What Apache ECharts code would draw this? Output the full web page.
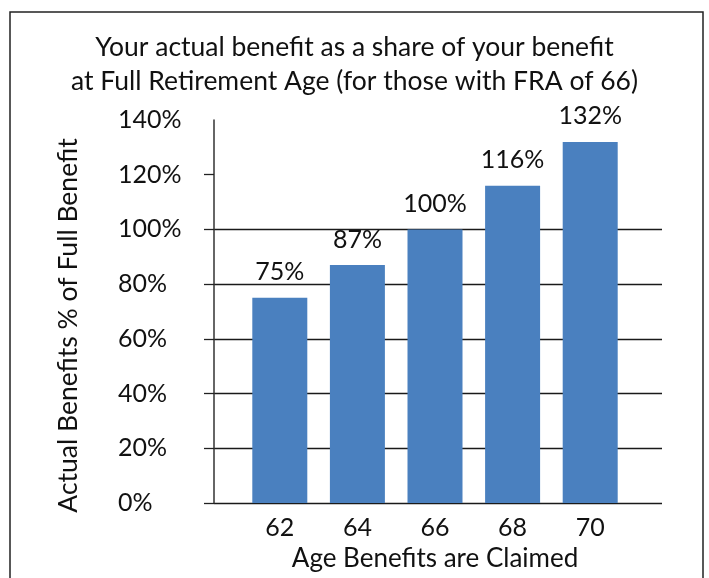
<!DOCTYPE html>
<html>
<head>
<meta charset="utf-8">
<script src="https://cdn.jsdelivr.net/npm/echarts@6/dist/echarts.min.js"></script>
<style>html,body{margin:0;padding:0;background:#fff}#c{width:709px;height:578px}</style>
</head>
<body>
<div id="c"></div>
<script>
const titleLines = ['Your actual benefit as a share of your benefit', 'at Full Retirement Age (for those with FRA of 66)'];
const categories = ['62', '64', '66', '68', '70'];
const values = [75, 87, 100, 116, 132];
const yTicks = [0, 20, 40, 60, 80, 100, 120];
const yMin = 0, yMax = 140, yStep = 20;
const xName = 'Age Benefits are Claimed';
const yName = 'Actual Benefits % of Full Benefit';

const FONT = 'Lato';
const chart = echarts.init(document.getElementById('c'));
chart.setOption({
  animation: false,
  backgroundColor: '#fff',
  textStyle: { fontFamily: FONT },
  title: {
    text: titleLines.join('\n'),
    left: 'center',
    top: 25,
    textStyle: { fontFamily: FONT, fontSize: 26.5, fontWeight: 'normal', color: '#111', lineHeight: 34 }
  },
  graphic: [{
    type: 'rect', shape: { x: 10, y: 12, width: 693, height: 620 },
    style: { fill: 'none', stroke: '#222', lineWidth: 1.5 }, silent: true, z: -1
  }],
  grid: [
    { left: 214, right: 47, top: 120, bottom: 75 },
    { left: 241, right: 80, top: 120, bottom: 75 }
  ],
  xAxis: [
    { type: 'value', gridIndex: 0, show: false, min: 0, max: 1 },
    {
      type: 'category', gridIndex: 1, data: categories,
      axisLine: { show: false }, axisTick: { show: false },
      axisLabel: { fontFamily: FONT, fontSize: 25, color: '#111', margin: 12 },
      name: xName, nameLocation: 'middle', nameGap: 43,
      nameTextStyle: { fontFamily: FONT, fontSize: 26, color: '#111' }
    }
  ],
  yAxis: [
    {
      type: 'value', gridIndex: 0, min: yMin, max: yMax, interval: yStep,
      axisLine: { show: true, lineStyle: { color: '#333', width: 1.5 } },
      axisTick: { show: true, length: 10, customValues: yTicks, lineStyle: { color: '#222', width: 1.3 } },
      splitLine: { show: true, showMaxLine: false, lineStyle: { color: '#1a1a1a', width: 1.3 } },
      axisLabel: { fontFamily: FONT, fontSize: 25, color: '#111', align: 'left', margin: 96, formatter: '{value}%' },
      name: yName, nameLocation: 'middle', nameRotate: 90, nameGap: 132,
      nameTextStyle: { fontFamily: FONT, fontSize: 26.5, color: '#111', padding: [0, 28, 0, 0] }
    },
    { type: 'value', gridIndex: 1, min: yMin, max: yMax, show: false }
  ],
  series: [{
    type: 'bar', xAxisIndex: 1, yAxisIndex: 1, data: values, barWidth: 55,
    itemStyle: { color: '#4a80bf' },
    label: { show: true, position: 'top', distance: 13, fontFamily: FONT, fontSize: 25, color: '#111', formatter: '{c}%' }
  }]
});
</script>
</body>
</html>
